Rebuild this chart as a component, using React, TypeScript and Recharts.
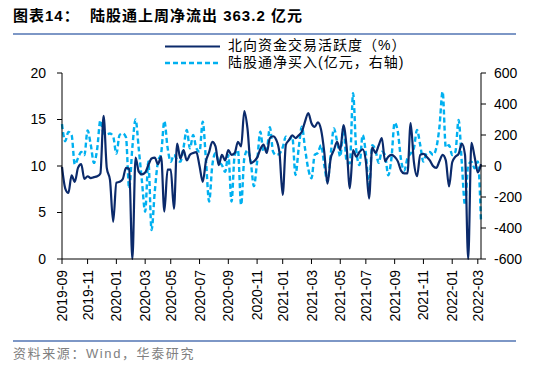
import { Line, LineChart, XAxis, YAxis } from "recharts";

// weekly northbound trading activity (%, left axis)
const activity = [
  9.9, 7.6, 7.1, 9.0, 8.3, 9.8, 10.2, 8.6, 8.9, 8.7, 8.8, 8.9, 9.2, 15.4, 9.8, 8.5,
  4.0, 8.2, 8.3, 8.6, 9.8, 9.7, 0, 10.9, 9.4, 9.1, 9.3, 10.1, 10.8, 10.9, 10.2, 11.0,
  5.1, 9.6, 9.6, 5.4, 12.4, 10.8, 11.7, 10.6, 11.2, 11.4, 11.5, 10.0, 8.3, 10.5, 11.5, 12.6,
  12.1, 10.1, 11.2, 10.6, 11.7, 11.2, 11.4, 12.6, 12.1, 15.9, 14.0, 10.3, 10.5, 10.9, 11.8, 12.3,
  11.4, 13.0, 13.2, 12.8, 11.4, 6.9, 12.3, 12.8, 13.3, 13.0, 13.3, 13.7, 14.8, 15.7, 14.6, 14.2,
  14.7, 13.9, 11.5, 8.1, 10.8, 11.7, 12.6, 11.7, 14.4, 12.0, 7.6, 11.7, 11.0, 11.5, 11.8, 10.5,
  6.5, 12.0, 11.4, 12.2, 13.0, 10.5, 11.0, 11.2, 11.0, 10.5, 9.5, 9.2, 9.2, 14.6, 10.5, 8.9,
  11.2, 11.3, 11.0, 10.6, 10.0, 9.8, 10.5, 11.2, 10.6, 7.8, 10.4, 11.0, 11.3, 12.4, 11.2, 0,
  12.5, 11.0, 9.3, 10.2,
];

// weekly Stock Connect net buying (亿元, right axis)
const netBuy = [
  270, 160, 220, 200, 10, 50, 90, 70, 230, 135, 20, 110, 295, 210, 205, 210,
  190, 80, 200, 210, 185, -145, 120, 300, 110, -100, -295, 30, -413, -166, 28, 82,
  290, 120, 28, 71, 40, 28, 120, 232, 114, 200, 114, 92, 286, 39, -230, 6,
  82, 28, 6, -37, 71, -230, 71, 103, -252, 50, 103, 28, -130, 28, 221, 92,
  100, 250, 92, 71, 80, 120, 189, 170, 189, -58, 114, 254, 110, -20, -79, 71,
  85, 135, 6, -101, 71, 243, 160, 60, 254, 28, 17, 469, 103, 6, 200, 80,
  -144, 135, 103, 20, 92, 71, -60, 50, 280, 220, 40, -30, 50, 80, 114, 232,
  135, 28, 82, 90, 71, 114, 250, 480, 120, 135, 71, 92, 297, 20, -252, 6,
  28, -15, 30, -363,
];

const leftTicks = [0, 5, 10, 15, 20];
const rightTicks = [-600, -400, -200, 0, 200, 400, 600];

const firstWeek = Date.UTC(2019, 8, 6);
const weeks = activity.map((_, i) =>
  new Date(firstWeek + i * 7 * 86400000).toISOString().slice(0, 10)
);
// first week of every odd month
const monthTicks = weeks.filter(
  (d, i) =>
    (i === 0 || d.slice(0, 7) !== weeks[i - 1].slice(0, 7)) &&
    Number(d.slice(5, 7)) % 2 === 1
);

const data = weeks.map((week, i) => ({
  week,
  activity: activity[i],
  netBuy: netBuy[i],
}));

const NUM_FONT = "'Liberation Sans', Arial, sans-serif";
const CJK_FONT = "'Liberation Sans', 'Noto Sans CJK SC', sans-serif";
const DARK = "#0B2A6B";
const LIGHT = "#00B0F0";

function MonthTick({ x, y, payload }: any) {
  return (
    <text
      x={x}
      y={y}
      transform={`rotate(-90 ${x} ${y})`}
      textAnchor="end"
      dx={-6}
      dy="0.36em"
      fontSize={14}
      fontFamily={NUM_FONT}
      fill="#000"
    >
      {String(payload.value).slice(0, 7)}
    </text>
  );
}

export default function App() {
  return (
    <div
      style={{
        position: "absolute",
        left: 0,
        top: 0,
        width: 550,
        height: 368,
        background: "#fff",
        fontFamily: CJK_FONT,
      }}
    >
      <div
        style={{
          position: "absolute",
          left: 13,
          top: 4,
          fontSize: 15,
          fontWeight: "bold",
          color: "#000",
          whiteSpace: "nowrap",
          letterSpacing: 1,
        }}
      >
        图表14：&nbsp;&nbsp;陆股通上周净流出 363.2 亿元
      </div>
      <div
        style={{
          position: "absolute",
          left: 13,
          top: 33,
          width: 503,
          height: 2,
          background: "#7D97C6",
        }}
      />

      <LineChart
        width={550}
        height={368}
        data={data}
        margin={{ top: 73, right: 19, bottom: 39, left: 12 }}
      >
        <XAxis
          dataKey="week"
          ticks={monthTicks}
          interval={0}
          height={70}
          tickSize={5}
          tickMargin={0}
          stroke="#000"
          tick={<MonthTick />}
        />
        <YAxis
          yAxisId="left"
          domain={[0, 20]}
          ticks={leftTicks}
          width={50}
          tickSize={5}
          tickMargin={11}
          stroke="#000"
          tick={{ fill: "#000", fontSize: 14, fontFamily: NUM_FONT }}
        />
        <YAxis
          yAxisId="right"
          orientation="right"
          domain={[-600, 600]}
          ticks={rightTicks}
          width={50}
          tickSize={5}
          tickMargin={8}
          stroke="#000"
          tick={{ fill: "#000", fontSize: 14, fontFamily: NUM_FONT, textAnchor: "start" }}
        />
        <Line
          yAxisId="right"
          dataKey="netBuy"
          type="monotone"
          stroke={LIGHT}
          strokeWidth={2.4}
          strokeDasharray="5 3"
          dot={false}
          isAnimationActive={false}
        />
        <Line
          yAxisId="left"
          dataKey="activity"
          type="monotone"
          stroke={DARK}
          strokeWidth={2.2}
          dot={false}
          isAnimationActive={false}
        />
      </LineChart>

      {/* legend */}
      <svg
        style={{ position: "absolute", left: 163, top: 38 }}
        width={60}
        height={32}
      >
        <line x1={2} y1={8.5} x2={57} y2={8.5} stroke={DARK} strokeWidth={2.2} />
        <line
          x1={2}
          y1={25}
          x2={57}
          y2={25}
          stroke={LIGHT}
          strokeWidth={2.4}
          strokeDasharray="5 3"
        />
      </svg>
      <div
        style={{
          position: "absolute",
          left: 228,
          top: 37,
          fontSize: 14,
          lineHeight: "17px",
          color: "#000",
          whiteSpace: "nowrap",
          letterSpacing: 1,
        }}
      >
        <div>北向资金交易活跃度（%）</div>
        <div>陆股通净买入(亿元，右轴)</div>
      </div>

      <div
        style={{
          position: "absolute",
          left: 13,
          top: 340,
          width: 503,
          height: 1.5,
          background: "#7D97C6",
        }}
      />
      <div
        style={{
          position: "absolute",
          left: 13,
          top: 343,
          fontSize: 13,
          color: "#7F7F7F",
          whiteSpace: "nowrap",
          letterSpacing: 1.6,
        }}
      >
        资料来源：Wind，华泰研究
      </div>
    </div>
  );
}
